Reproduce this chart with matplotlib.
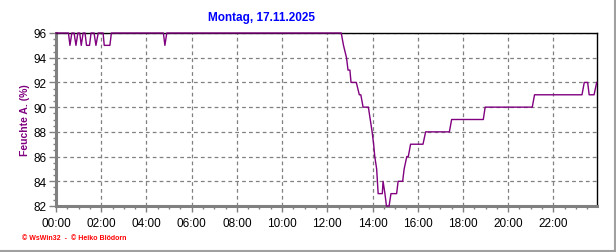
import numpy as np
from matplotlib import pyplot as plt
from matplotlib.lines import Line2D
from matplotlib.ticker import MultipleLocator

# Data (time of day, relative humidity in %)
times = ['00:00', '00:33', '00:37', '00:42', '00:48', '00:53', '00:58',
         '01:03', '01:07', '01:12', '01:17', '01:21', '01:29', '01:33',
         '01:41', '01:46', '01:52', '02:05', '02:08', '02:23', '02:27',
         '04:45', '04:49', '04:54',
         '12:37', '12:43', '12:51', '12:55', '13:00', '13:03', '13:17',
         '13:25', '13:29', '13:35', '13:49', '13:54', '13:59', '14:03',
         '14:06', '14:11', '14:13', '14:15', '14:26', '14:28', '14:33',
         '14:37', '14:44', '14:49', '15:04', '15:08', '15:20', '15:24',
         '15:31', '15:35', '15:41', '16:14', '16:21', '17:24', '17:30',
         '18:54', '18:59', '21:04', '21:10', '23:16', '23:22', '23:31',
         '23:35', '23:48', '23:55']
humidity = [96, 96, 95, 96, 96, 95, 96,
            96, 95, 96, 96, 95, 95, 96,
            96, 95, 96, 96, 95, 95, 96,
            96, 95, 96,
            96, 95, 94, 93, 93, 92, 92,
            91, 91, 90, 90, 89, 88, 87,
            86, 85, 84, 83, 83, 84, 83,
            82, 82, 83, 83, 84, 84, 85,
            86, 86, 87, 87, 88, 88, 89,
            89, 90, 90, 91, 91, 92, 92,
            91, 91, 92]
xtick_labels = ['00:00', '02:00', '04:00', '06:00', '08:00', '10:00',
                '12:00', '14:00', '16:00', '18:00', '20:00', '22:00']

hours = np.array([int(t[:2]) + int(t[3:]) / 60 for t in times])

plt.rcParams['font.family'] = ['Liberation Sans', 'DejaVu Sans']

fig = plt.figure(figsize=(6.16, 2.53), dpi=100, facecolor='w')
ax = fig.add_axes([56 / 616, 46 / 253, 541 / 616, 173 / 253])

ax.plot(hours, humidity, color='#800080', lw=1.0, zorder=5, clip_on=False)

ax.set_xlim(0, 23.93)
ax.set_ylim(82, 96)
ax.set_xticks(np.arange(0, 24, 2))
ax.set_xticklabels(xtick_labels, fontsize=8.5)
ax.xaxis.set_minor_locator(MultipleLocator(0.5))
ax.yaxis.set_major_locator(MultipleLocator(2))
ax.yaxis.set_minor_locator(MultipleLocator(0.5))
ax.tick_params(axis='y', labelsize=8.5, length=5, width=1, color='#808080', pad=2)
ax.tick_params(axis='x', length=4, width=1, color='#808080', pad=4)
ax.tick_params(which='minor', length=2, width=1, color='#808080')

ax.grid(True, which='major', color='#808080', ls=(0, (3, 2.5)), lw=0.9)
for s in ['left', 'bottom']:
    ax.spines[s].set_color('#808080')
    ax.spines[s].set_linewidth(2.2)
for s in ['top', 'right']:
    ax.spines[s].set_color('black')
    ax.spines[s].set_linewidth(1.0)

ax.set_ylabel('Feuchte A. (%)', color='#800080', fontsize=7.5,
              fontweight='bold', labelpad=2)

fig.text(262 / 616, 1 - 18 / 253, 'Montag, 17.11.2025', color='#0000ff',
         fontsize=8.5, fontweight='bold', ha='center', va='center')
fig.text(22 / 616, 1 - 239 / 253, '\u00a9 WsWin32  -  \u00a9 Heiko Bl\u00f6dorn',
         color='#ff0000', fontsize=5, fontweight='bold', ha='left', va='center')

# frame lines on the right and bottom edge of the picture
fig.add_artist(Line2D([614.5 / 616, 614.5 / 616], [1 / 253, 1], color='#a0a0a0', lw=1.5))
fig.add_artist(Line2D([0, 615 / 616], [1 / 253, 1 / 253], color='#a0a0a0', lw=1.5))

plt.savefig('out.png', dpi=100)
plt.close(fig)
